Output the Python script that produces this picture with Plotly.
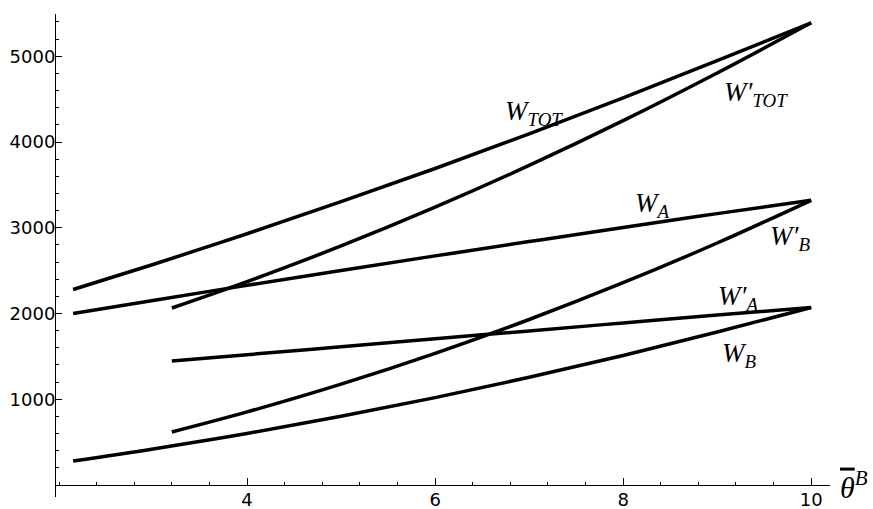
import plotly.graph_objects as go

# theta grids
theta1 = [2.15, 3, 4, 5, 6, 7, 8, 9, 10]
theta2 = [3.2, 4, 5, 6, 7, 8, 9, 10]

# series
W_A   = [2000, 2152, 2329, 2502, 2672, 2839, 3004, 3165, 3320]
W_B   = [280, 420, 601, 802, 1019, 1256, 1511, 1784, 2070]
W_TOT = [2280, 2572, 2930, 3304, 3691, 4095, 4515, 4949, 5390]
Wp_A  = [1446, 1520, 1612, 1705, 1797, 1890, 1983, 2070]
Wp_B  = [618, 852, 1176, 1535, 1930, 2359, 2822, 3320]
Wp_TOT = [2064, 2372, 2788, 3240, 3727, 4249, 4805, 5390]

x_ticks = [4, 6, 8, 10]
y_ticks = [1000, 2000, 3000, 4000, 5000]
x_range = [1.968, 10.2]
y_range = [-140, 5493]

# label positions (data coords)
labels = [
    ("<i>W</i><sub><i>TOT</i></sub>", 7.05, 4340),
    ("<i>W′</i><sub><i>TOT</i></sub>", 9.41, 4560),
    ("<i>W</i><sub><i>A</i></sub>", 8.31, 3265),
    ("<i>W′</i><sub><i>B</i></sub>", 9.77, 2880),
    ("<i>W′</i><sub><i>A</i></sub>", 9.22, 2181),
    ("<i>W</i><sub><i>B</i></sub>", 9.24, 1516),
]

fig = go.Figure()
line = dict(color="black", width=3.5)
for th, ys in [(theta1, W_TOT), (theta1, W_A), (theta1, W_B),
               (theta2, Wp_TOT), (theta2, Wp_A), (theta2, Wp_B)]:
    fig.add_trace(go.Scatter(x=th, y=ys, mode="lines", line=line,
                             line_shape="spline", showlegend=False,
                             hoverinfo="skip"))

for txt, x, y in labels:
    fig.add_annotation(x=x, y=y, text=txt, showarrow=False,
                       font=dict(family="Liberation Serif", size=27, color="black"))

xpos = (0 - y_range[0]) / (y_range[1] - y_range[0])
theta_lab_x = (10.63 - x_range[0]) / (x_range[1] - x_range[0])

fig.add_annotation(x=theta_lab_x, y=xpos,
                   text="<span style='text-decoration:overline'><i>θ</i></span><sup><i>B</i></sup>",
                   showarrow=False, xref="paper", yref="paper",
                   xanchor="right", yanchor="middle",
                   font=dict(family="Liberation Serif", size=30, color="black"))

fig.update_layout(
    width=873, height=509,
    margin=dict(l=56, r=43, t=14, b=12),
    paper_bgcolor="white", plot_bgcolor="white",
    font=dict(family="DejaVu Sans", size=18, color="black"),
    xaxis=dict(range=x_range, tickvals=x_ticks, ticks="inside", ticklen=7,
               tickwidth=1, tickcolor="black", showgrid=False, zeroline=False,
               showline=True, linecolor="black", linewidth=1,
               anchor="free", position=xpos, automargin=False,
               ticklabelstandoff=-2,
               minor=dict(tick0=2, dtick=0.4, ticks="inside", ticklen=3,
                          tickcolor="black", showgrid=False),
               tickfont=dict(family="DejaVu Sans", size=18)),
    yaxis=dict(range=y_range, tickvals=y_ticks, ticks="inside", ticklen=6,
               tickwidth=1, tickcolor="black", showgrid=False, zeroline=False,
               showline=True, linecolor="black", linewidth=1, automargin=False,
               ticklabelstandoff=-4,
               minor=dict(tick0=0, dtick=200, ticks="inside", ticklen=3,
                          tickcolor="black", showgrid=False),
               tickfont=dict(family="DejaVu Sans", size=18)),
)

fig.write_html("out.html", config={"displayModeBar": False},
               post_script="document.body.style.margin='0';")
